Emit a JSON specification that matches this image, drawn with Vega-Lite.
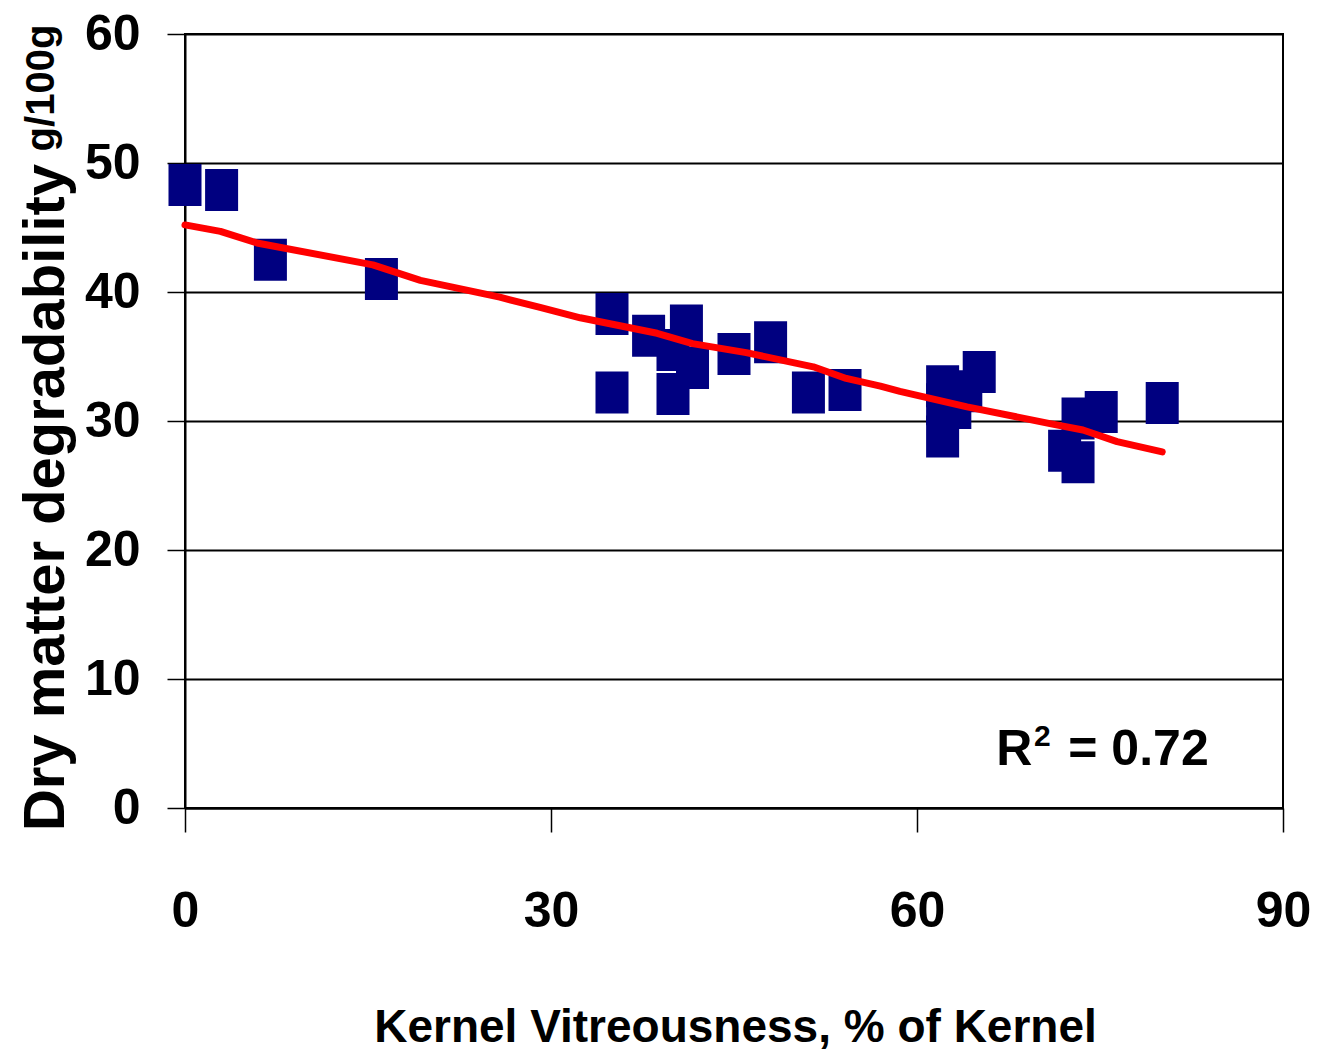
{
  "$schema": "https://vega.github.io/schema/vega-lite/v6.json",
  "width": 1098,
  "height": 774,
  "autosize": {"type": "none"},
  "padding": {"left": 185, "top": 34, "right": 38, "bottom": 244},
  "background": "white",
  "view": {"stroke": "black", "strokeWidth": 2},
  "config": {
    "font": "Liberation Sans",
    "axis": {"domainColor": "black", "tickColor": "black", "labelColor": "black", "titleColor": "black", "domainWidth": 2, "tickWidth": 1.5}
  },
  "datasets": {
    "points": [
      {"vitreousness": 0, "degradability": 48.3},
      {"vitreousness": 3.0, "degradability": 47.9},
      {"vitreousness": 7.0, "degradability": 42.5},
      {"vitreousness": 16.1, "degradability": 41.0},
      {"vitreousness": 35.0, "degradability": 38.3},
      {"vitreousness": 35.0, "degradability": 32.2},
      {"vitreousness": 38.0, "degradability": 36.6},
      {"vitreousness": 41.1, "degradability": 37.4},
      {"vitreousness": 40.0, "degradability": 35.5},
      {"vitreousness": 40.0, "degradability": 32.1},
      {"vitreousness": 41.6, "degradability": 34.1},
      {"vitreousness": 45.0, "degradability": 35.2},
      {"vitreousness": 48.0, "degradability": 36.1},
      {"vitreousness": 51.1, "degradability": 32.2},
      {"vitreousness": 54.1, "degradability": 32.4},
      {"vitreousness": 62.1, "degradability": 32.7},
      {"vitreousness": 62.1, "degradability": 31.3},
      {"vitreousness": 62.1, "degradability": 28.8},
      {"vitreousness": 63.1, "degradability": 31.0},
      {"vitreousness": 64.0, "degradability": 32.3},
      {"vitreousness": 65.1, "degradability": 33.8},
      {"vitreousness": 72.1, "degradability": 27.7},
      {"vitreousness": 73.2, "degradability": 30.2},
      {"vitreousness": 73.2, "degradability": 26.8},
      {"vitreousness": 75.1, "degradability": 30.7},
      {"vitreousness": 80.1, "degradability": 31.4}
    ],
    "trend": [
      {"vitreousness": 0, "degradability": 45.2},
      {"vitreousness": 2.9, "degradability": 44.7},
      {"vitreousness": 5.9, "degradability": 43.8},
      {"vitreousness": 15.4, "degradability": 42.1},
      {"vitreousness": 19.3, "degradability": 40.9},
      {"vitreousness": 25.8, "degradability": 39.6},
      {"vitreousness": 29.1, "degradability": 38.8},
      {"vitreousness": 32.4, "degradability": 38.0},
      {"vitreousness": 38.7, "degradability": 36.8},
      {"vitreousness": 41.6, "degradability": 36.0},
      {"vitreousness": 46.0, "degradability": 35.3},
      {"vitreousness": 51.5, "degradability": 34.2},
      {"vitreousness": 54.2, "degradability": 33.3},
      {"vitreousness": 57.0, "degradability": 32.7},
      {"vitreousness": 58.6, "degradability": 32.3},
      {"vitreousness": 64.1, "degradability": 31.1},
      {"vitreousness": 70.9, "degradability": 29.8},
      {"vitreousness": 73.6, "degradability": 29.3},
      {"vitreousness": 76.4, "degradability": 28.4},
      {"vitreousness": 80.1, "degradability": 27.6}
    ]
  },
  "layer": [
    {
      "data": {"name": "points"},
      "mark": {"type": "point", "shape": "M-0.786,-1H0.786V1H-0.786Z", "size": 1764, "filled": true, "fill": "#000080", "opacity": 1, "strokeWidth": 0},
      "encoding": {
        "x": {
          "field": "vitreousness", "type": "quantitative",
          "scale": {"domain": [0, 90], "nice": false, "zero": false},
          "axis": {
            "values": [0, 30, 60, 90], "grid": false, "tickSize": 24, "labelFlush": false, "labelOverlap": false,
            "labelFont": "Liberation Sans", "labelFontWeight": "bold", "labelFontSize": 50, "labelPadding": 54,
            "title": "Kernel Vitreousness, % of Kernel",
            "titleFont": "Liberation Sans", "titleFontWeight": "bold", "titleFontSize": 46,
            "titleBaseline": "alphabetic", "titleY": 233, "titleX": 550, "titleAlign": "center"
          }
        },
        "y": {
          "field": "degradability", "type": "quantitative",
          "scale": {"domain": [0, 60], "nice": false},
          "axis": {
            "values": [0, 10, 20, 30, 40, 50, 60], "grid": true, "gridColor": "black", "gridWidth": 2, "gridOpacity": 1,
            "tickSize": 18, "labelFlush": false, "labelOverlap": false,
            "labelFont": "Liberation Sans", "labelFontWeight": "bold", "labelFontSize": 50, "labelPadding": 27,
            "title": "Dry matter degradability",
            "titleFont": "Liberation Sans", "titleFontWeight": "bold", "titleFontSize": 58,
            "titleAngle": 270, "titleBaseline": "alphabetic", "titleAlign": "center", "titleX": -122, "titleY": 463
          }
        }
      }
    },
    {
      "data": {"name": "trend"},
      "mark": {"type": "line", "color": "#FF0000", "strokeWidth": 7, "strokeCap": "round", "strokeJoin": "round"},
      "encoding": {
        "x": {"field": "vitreousness", "type": "quantitative"},
        "y": {"field": "degradability", "type": "quantitative"}
      }
    },
    {
      "data": {"values": [{"t": "g/100g"}]},
      "mark": {"type": "text", "angle": 270, "align": "left", "baseline": "alphabetic", "font": "Liberation Sans", "fontWeight": "bold", "fontSize": 40, "color": "black"},
      "encoding": {"x": {"datum": -10.7}, "y": {"datum": 50.9}, "text": {"field": "t"}}
    },
    {
      "data": {"values": [{"t": "R"}]},
      "mark": {"type": "text", "align": "left", "baseline": "alphabetic", "font": "Liberation Sans", "fontWeight": "bold", "fontSize": 50, "color": "black"},
      "encoding": {"x": {"datum": 66.5}, "y": {"datum": 3.3}, "text": {"field": "t"}}
    },
    {
      "data": {"values": [{"t": "2"}]},
      "mark": {"type": "text", "align": "left", "baseline": "alphabetic", "font": "Liberation Sans", "fontWeight": "bold", "fontSize": 30, "color": "black"},
      "encoding": {"x": {"datum": 69.6}, "y": {"datum": 4.8}, "text": {"field": "t"}}
    },
    {
      "data": {"values": [{"t": "= 0.72"}]},
      "mark": {"type": "text", "align": "left", "baseline": "alphabetic", "font": "Liberation Sans", "fontWeight": "bold", "fontSize": 50, "color": "black"},
      "encoding": {"x": {"datum": 72.4}, "y": {"datum": 3.3}, "text": {"field": "t"}}
    }
  ]
}
